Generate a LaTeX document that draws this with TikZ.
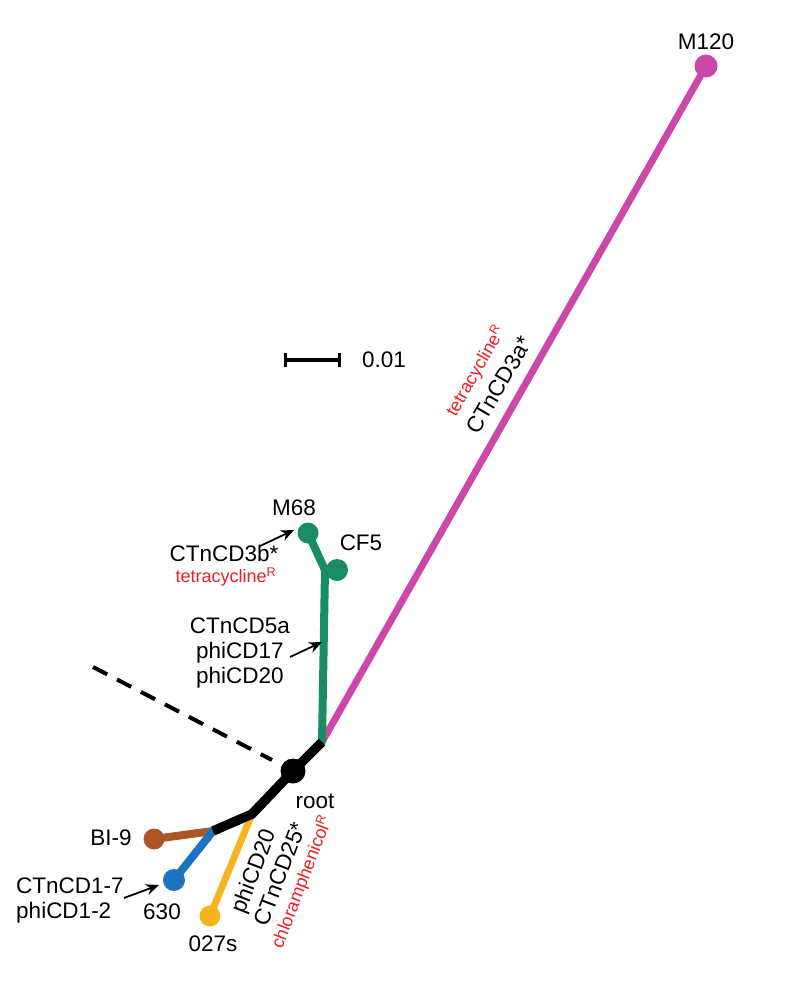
\documentclass[tikz,border=0pt]{standalone}
\usepackage{fontspec}
\setmainfont{Liberation Sans}
\usetikzlibrary{arrows.meta}
\definecolor{cmag}{RGB}{204,72,168}
\definecolor{cgreen}{RGB}{24,140,100}
\definecolor{cbrown}{RGB}{172,86,38}
\definecolor{cblue}{RGB}{28,116,192}
\definecolor{cyel}{RGB}{246,180,32}
\definecolor{cred}{RGB}{232,32,40}
\begin{document}
\begin{tikzpicture}[x=1pt,y=-1pt,
  lbl/.style={font=\fontsize{22.5}{26}\selectfont, inner sep=0pt},
  rlbl/.style={font=\fontsize{18}{21}\selectfont, text=cred, inner sep=0pt},
  dot/.style={circle, fill=#1, minimum size=21pt, inner sep=0pt},
  branch/.style={line width=8pt, color=#1, line cap=round, line join=round},
  pointer/.style={line width=1.8pt, -{Stealth[length=13pt,width=11pt]}}]
\useasboundingbox (0,0) rectangle (803,994);
% junction coordinates
\coordinate (j1) at (322,742);
\coordinate (gj) at (325,570);
\coordinate (b1) at (252,814);
\coordinate (b2) at (213,831);
% dashed line
\coordinate (dstart) at (93,667);
\coordinate (dend) at (272,760);
\draw[line width=4pt, dash pattern=on 16pt off 11pt] (dstart) -- (dend);
% leaves
\node[dot=cmag, minimum size=23pt] (M120) at (706,66) {};
\node[dot=cgreen] (M68) at (308,533) {};
\node[dot=cgreen, minimum size=22pt] (CF5) at (337,570) {};
\node[dot=black, minimum size=25pt] (root) at (293,771) {};
\node[dot=cbrown] (BI9) at (154,839) {};
\node[dot=cblue, minimum size=22pt] (n630) at (174,880) {};
\node[dot=cyel] (n027) at (210,916) {};
% branches
\draw[branch=cmag, line width=7pt] (j1) -- (M120.center);
\draw[branch=cgreen] (j1) -- (gj) -- (CF5.center);
\draw[branch=cgreen] (gj) -- (M68.center);
\draw[branch=cyel, line width=7pt] (b1) -- (n027.center);
\draw[branch=cbrown] (b2) -- (BI9.center);
\draw[branch=cblue] (b2) -- (n630.center);
\draw[branch=black, line width=9.5pt, line cap=butt] (j1) -- (root.center) -- (b1) -- (b2);
% scale bar
\coordinate (sa) at (285,360);
\coordinate (sb) at (339,360);
\draw[line width=3.5pt] (sa) -- (sb);
\draw[line width=3pt] ([yshift=-7pt]sa) -- ([yshift=7pt]sa);
\draw[line width=3pt] ([yshift=-7pt]sb) -- ([yshift=7pt]sb);
\node[lbl, anchor=west] (scale) at (362,360) {0.01};
% labels
\node[lbl] (tM120) at (706,42) {M120};
\node[lbl] (tM68) at (294,508) {M68};
\node[lbl] (tCF5) at (361,543) {CF5};
\node[lbl] (troot) at (315,801) {root};
\node[lbl] (tBI9) at (111,838) {BI-9};
\node[lbl] (t630) at (162,912) {630};
\node[lbl] (t027) at (213,944) {027s};
\node[lbl] (tCT3b) at (224,553) {CTnCD3b*};
\node[rlbl] (tTet1) at (226,577) {tetracycline\textsuperscript{R}};
\node[lbl, align=center] (tCT5) at (240,653) {CTnCD5a\\[-1pt]phiCD17\\[-1pt]phiCD20};
\node[lbl, align=left] (tCT1) at (70,900) {CTnCD1-7\\[-1pt]phiCD1-2};
% rotated labels
\node[lbl, rotate=69] (tphi20) at (255,872) {phiCD20};
\node[lbl, rotate=69] (tCT25) at (280,874) {CTnCD25*};
\node[rlbl, rotate=69] (tchl) at (302,882) {chloramphenicol\textsuperscript{R}};
\node[lbl, rotate=60] (tCT3a) at (499,385) {CTnCD3a*};
\node[rlbl, rotate=60] (tTet2) at (476,371) {tetracycline\textsuperscript{R}};
% pointer arrows
\coordinate (p1s) at (260,546);
\coordinate (p1e) at (294,530);
\draw[pointer] (p1s) -- (p1e);
\coordinate (p2s) at (290,657);
\coordinate (p2e) at (322,642);
\draw[pointer] (p2s) -- (p2e);
\coordinate (p3s) at (124,898);
\coordinate (p3e) at (159,885);
\draw[pointer] (p3s) -- (p3e);
\end{tikzpicture}
\end{document}
